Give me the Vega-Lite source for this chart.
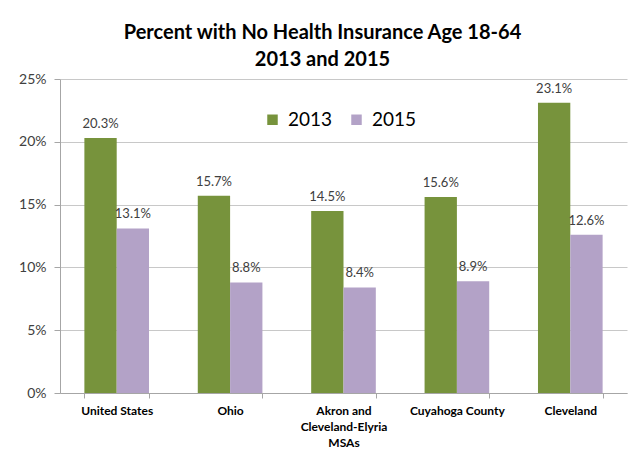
{
  "$schema": "https://vega.github.io/schema/vega-lite/v6.json",
  "width": 567,
  "height": 314,
  "autosize": {"type": "none"},
  "padding": {"left": 60, "top": 79, "right": 1, "bottom": 57},
  "background": "white",
  "title": {
    "text": ["Percent with No Health Insurance Age 18-64", "2013 and 2015"],
    "font": "Lato",
    "fontSize": 20,
    "fontWeight": "bold",
    "color": "#000000",
    "anchor": "middle",
    "dx": -21,
    "lineHeight": 27,
    "offset": 2
  },
  "data": {
    "values": [
      {"area": "United States", "year": "2013", "pct": 0.203},
      {"area": "United States", "year": "2015", "pct": 0.131},
      {"area": "Ohio", "year": "2013", "pct": 0.157},
      {"area": "Ohio", "year": "2015", "pct": 0.088},
      {"area": "Akron and Cleveland-Elyria MSAs", "year": "2013", "pct": 0.145},
      {"area": "Akron and Cleveland-Elyria MSAs", "year": "2015", "pct": 0.084},
      {"area": "Cuyahoga County", "year": "2013", "pct": 0.156},
      {"area": "Cuyahoga County", "year": "2015", "pct": 0.089},
      {"area": "Cleveland", "year": "2013", "pct": 0.231},
      {"area": "Cleveland", "year": "2015", "pct": 0.126}
    ]
  },
  "encoding": {
    "x": {
      "field": "area",
      "type": "nominal",
      "sort": null,
      "scale": {"paddingInner": 0.43, "paddingOuter": 0.215},
      "axis": {
        "title": null,
        "labelAngle": 0,
        "labelFont": "Lato",
        "labelFontSize": 12,
        "labelFontWeight": "bold",
        "labelColor": "#000000",
        "labelPadding": 7,
        "labelLineHeight": 16,
        "labelExpr": "datum.value == 'Akron and Cleveland-Elyria MSAs' ? ['Akron and', 'Cleveland-Elyria', 'MSAs'] : datum.value",
        "tickBand": "extent",
        "tickColor": "#a6a6a6",
        "tickSize": 5,
        "domainColor": "#a6a6a6",
        "grid": false
      }
    },
    "xOffset": {"field": "year", "type": "nominal", "scale": {"paddingInner": 0, "paddingOuter": 0}},
    "y": {
      "field": "pct",
      "type": "quantitative",
      "scale": {"domain": [0, 0.25]},
      "axis": {
        "title": null,
        "format": ".0%",
        "values": [0, 0.05, 0.1, 0.15, 0.2, 0.25],
        "labelFont": "Lato",
        "labelFontSize": 14,
        "labelColor": "#404040",
        "labelPadding": 8,
        "tickColor": "#a6a6a6",
        "tickSize": 6,
        "domainColor": "#a6a6a6",
        "gridColor": "#c8c8c8"
      }
    }
  },
  "layer": [
    {
      "mark": {"type": "bar"},
      "encoding": {
        "color": {
          "field": "year",
          "type": "nominal",
          "scale": {"domain": ["2013", "2015"], "range": ["#77933C", "#B3A2C7"]},
          "legend": {
            "title": null,
            "orient": "none",
            "direction": "horizontal",
            "legendX": 203,
            "legendY": 31,
            "symbolType": "square",
            "symbolSize": 110,
            "symbolStrokeWidth": 0,
            "labelFont": "Lato",
            "labelFontSize": 19,
            "labelColor": "#000000",
            "columnPadding": 14,
            "labelOffset": 6,
            "padding": 0
          }
        }
      }
    },
    {
      "mark": {"type": "text", "baseline": "bottom", "dy": -7, "font": "Lato", "fontSize": 13, "color": "#404040"},
      "encoding": {
        "text": {"field": "pct", "type": "quantitative", "format": ".1%"}
      }
    }
  ],
  "config": {
    "view": {"stroke": null}
  }
}
